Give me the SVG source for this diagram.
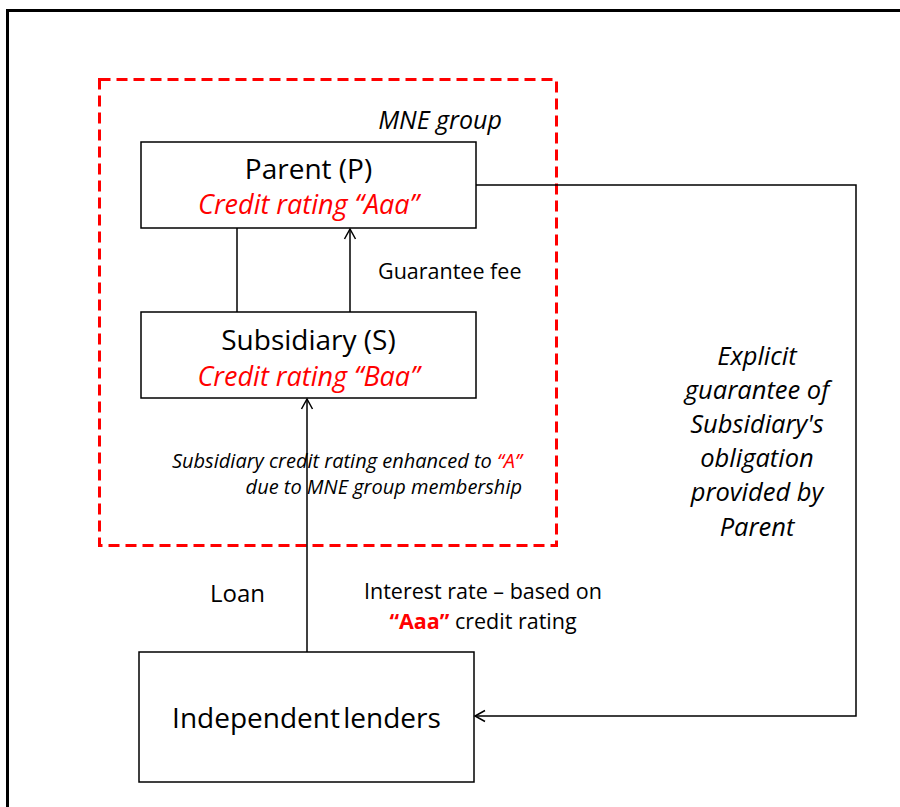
<svg xmlns="http://www.w3.org/2000/svg" width="900" height="807" viewBox="0 0 900 807">
<defs>
<marker id="open" markerWidth="14" markerHeight="14" refX="12" refY="7" orient="auto" markerUnits="userSpaceOnUse">
<path d="M2,1.5 L12,7 L2,12.5" fill="none" stroke="#000" stroke-width="1.5"/>
</marker>
</defs>
<style>
text{font-family:"Open Sans","Liberation Sans",sans-serif;fill:#000}
.box{fill:#fff;stroke:#000;stroke-width:1.5}
.conn{fill:none;stroke:#000;stroke-width:1.5}
.it{font-style:italic}
.red{fill:#ff0000}
</style>
<rect x="0" y="0" width="900" height="807" fill="#fff"/>
<path d="M7.5,830 L7.5,10.5 L920,10.5" fill="none" stroke="#000" stroke-width="3"/>
<g id="mne-group">
<rect x="99.5" y="79.5" width="457" height="466" fill="none" stroke="#ff0000" stroke-width="3" stroke-dasharray="11,6"/>
<text x="440" y="129" font-size="25" class="it" text-anchor="middle">MNE group</text>
</g>
<g id="parent">
<rect class="box" x="141" y="142" width="335" height="86"/>
<text x="308.5" y="179" font-size="28" text-anchor="middle">Parent (P)</text>
<text x="308.5" y="214" font-size="27" class="it red" text-anchor="middle">Credit rating “Aaa”</text>
</g>
<g id="subsidiary">
<rect class="box" x="141" y="312" width="335" height="86"/>
<text x="308.5" y="350" font-size="28" text-anchor="middle">Subsidiary (S)</text>
<text x="308.5" y="386" font-size="27" class="it red" text-anchor="middle">Credit rating “Baa”</text>
</g>
<g id="lenders">
<rect class="box" x="139" y="652" width="335" height="130"/>
<text x="306.5" y="728" font-size="28" text-anchor="middle" word-spacing="-4">Independent lenders</text>
</g>
<g id="labels">
<text x="378" y="279" font-size="21.5">Guarantee fee</text>
<text x="522" y="468" font-size="20" class="it" text-anchor="end">Subsidiary credit rating enhanced to <tspan class="red">“A”</tspan></text>
<text x="522" y="494" font-size="20" class="it" text-anchor="end">due to MNE group membership</text>
<text x="210" y="602" font-size="24">Loan</text>
<text x="483" y="599" font-size="21.5" text-anchor="middle">Interest rate – based on</text>
<text x="483" y="629" font-size="21.5" text-anchor="middle"><tspan class="red" font-weight="bold">“Aaa”</tspan> credit rating</text>
<text x="757" y="365" class="it" font-size="25.5" text-anchor="middle">Explicit</text>
<text x="757" y="399" class="it" font-size="25.5" text-anchor="middle">guarantee of</text>
<text x="757" y="433" class="it" font-size="25.5" text-anchor="middle">Subsidiary's</text>
<text x="757" y="467" class="it" font-size="25.5" text-anchor="middle">obligation</text>
<text x="757" y="501" class="it" font-size="25.5" text-anchor="middle">provided by</text>
<text x="757" y="536" class="it" font-size="25.5" text-anchor="middle">Parent</text>
</g>
<g id="connectors">
<line class="conn" x1="237" y1="228" x2="237" y2="312"/>
<line class="conn" x1="350" y1="312" x2="350" y2="229" marker-end="url(#open)"/>
<line class="conn" x1="307" y1="652" x2="307" y2="399" marker-end="url(#open)"/>
<polyline class="conn" points="476,185 856,185 856,716 475,716" marker-end="url(#open)"/>
</g>
</svg>
